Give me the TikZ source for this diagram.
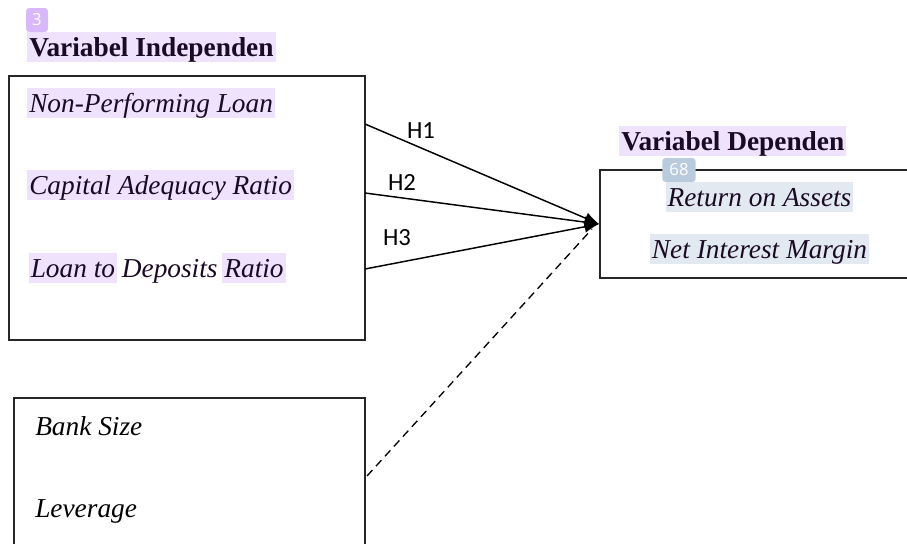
\documentclass[tikz,border=0pt]{standalone}
\usepackage{fontspec}
\setmainfont{Liberation Serif}[ItalicFont={Liberation Serif Italic},BoldFont={Liberation Serif Bold}]
\newfontfamily\tnr{Liberation Serif}
\newfontfamily\labfont{Carlito}
\newfontfamily\badgefont{Open Sans}
\usetikzlibrary{arrows.meta,calc}
\definecolor{lav}{HTML}{EFE2FC}
\definecolor{bluegrey}{HTML}{E2E9F1}
\definecolor{badgepurple}{HTML}{D9B8F9}
\definecolor{badgegrey}{HTML}{B9CBDC}
\definecolor{ink}{HTML}{1A0A24}
\setlength{\fboxsep}{1.5pt}
\newcommand{\hlstrut}{\vrule height 16.5pt depth 3pt width 0pt}
\tikzset{
  box/.style={draw=black!85, line width=1.3pt, rectangle, inner sep=0pt},
  vartext/.style={anchor=base west, inner sep=1.5pt, text height=16.5pt, text depth=3pt, font=\tnr\fontsize{20.5}{24}\selectfont\itshape, text=ink},
  hl/.style={fill=lav},
  hlb/.style={fill=bluegrey},
  title/.style={anchor=base west, inner sep=1.5pt, fill=lav, text height=16.5pt, text depth=3pt, font=\tnr\fontsize{20.5}{24}\selectfont\bfseries, text=ink},
  hyp/.style={font=\labfont\fontsize{18.5}{20}\selectfont, inner sep=0pt},
  conn/.style={line width=1.1pt, -{Latex[length=11pt,width=9pt]}},
  badge/.style={rounded corners=2.5pt, inner sep=2pt, text=white, font=\badgefont\fontsize{12.5}{13}\selectfont}
}
\begin{document}
\begin{tikzpicture}[x=0.75pt,y=-0.75pt]
\useasboundingbox (0,0) rectangle (907,543);
% boxes
\node[box, minimum width=267pt, minimum height=198pt] (ind) at (187,208) {};
\node[box, minimum width=263.25pt, minimum height=121.5pt] (ctrl) at (189.5,479) {};
\node[box, minimum width=240pt, minimum height=81pt] (dep) at (760,224) {};
% titles
\node[title] (tind) at (27,56) {Variabel Independen};
\node[title] (tdep) at (619,150) {Variabel Dependen};
\node[badge, fill=badgepurple, minimum width=16.5pt, minimum height=18pt] (b3) at (37,20) {3};
\node[badge, fill=badgegrey, minimum width=25pt, minimum height=18pt] (b68) at (679,170) {68};
% independent texts
\node[vartext, hl] (npl) at (27,112) {Non-Performing Loan};
\node[vartext, hl] (car) at (27,194) {Capital Adequacy Ratio};
\node[vartext, inner sep=0pt] (ldr) at (28.5,277) {\colorbox{lav}{\hlstrut Loan to}\hspace{-1.5pt} Deposits \hspace{-1.5pt}\colorbox{lav}{\hlstrut Ratio}};
% control texts
\node[vartext, text=black] (bs) at (33,435) {Bank Size};
\node[vartext, text=black] (lev) at (33,517) {Leverage};
% dependent texts
\node[vartext, hlb, anchor=base] (roa) at (759.5,206) {Return on Assets};
\node[vartext, hlb, anchor=base] (nim) at (759.5,258) {Net Interest Margin};
% connector start points
\coordinate (s1) at (365,124);
\coordinate (s2) at (365,193);
\coordinate (s3) at (365,269);
\coordinate (s4) at (367,476);
\coordinate (tip) at (dep.west);
\coordinate (dtip) at (592,229);
\draw[conn] (s1) -- (tip);
\draw[conn] (s2) -- (tip);
\draw[conn] (s3) -- (tip);
\draw[line width=1pt, dash pattern=on 6pt off 4pt] (s4) -- (dtip);
% hypothesis labels
\node[hyp] (h1) at (421,131) {H1};
\node[hyp] (h2) at (402,182) {H2};
\node[hyp] (h3) at (397,238) {H3};
\end{tikzpicture}
\end{document}
